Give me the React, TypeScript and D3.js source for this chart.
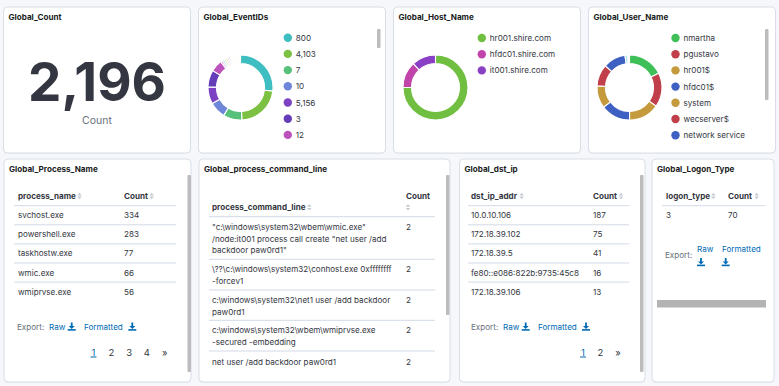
import React from "react";
import * as d3 from "d3";

// ---------- DATA ----------
const totalCount = 2196;

const eventIdLabels = ["800", "4,103", "7", "10", "5,156", "3", "12"];
const eventIdValues = [580, 488, 201, 177, 183, 183, 128];
// many small remaining event ids (tail of the donut)
const eventIdTailValues = [22, 20, 19, 18, 17, 16, 15, 14, 4, 4, 4, 4, 4, 4, 3, 3, 3, 3, 3, 3, 3, 3, 3, 3, 3, 3, 3, 3, 3, 3, 3, 3, 3, 3];
const eventIdColors = ["#3fbec1", "#7cc142", "#57c17b", "#6f87d8", "#7d42c4", "#663db8", "#bc52bc"];
const eventIdTailColors = ["#e59ad6", "#8fd3e8", "#b5dc88", "#f1c27d", "#a9a4ef", "#f09c9c", "#8fe0c0", "#e0d37a"];

const hostLabels = ["hr001.shire.com", "hfdc01.shire.com", "it001.shire.com"];
const hostValues = [1647, 287, 262];
const hostColors = ["#70bf41", "#c044aa", "#8a40c4"];

const userLabels = ["nmartha", "pgustavo", "hr001$", "hfdc01$", "system", "wecserver$", "network service"];
const userValues = [390, 372, 335, 323, 244, 238, 244];
const userTailValues = [30, 12, 7];
const userColors = ["#3fbf57", "#c03f4b", "#c49a3c", "#3e60c2", "#c49a3c", "#c03f4b", "#3e60c2"];
const userTailColors = ["#a8e4f0", "#d0eef8", "#e0e0f8"];

const processNames = ["svchost.exe", "powershell.exe", "taskhostw.exe", "wmic.exe", "wmiprvse.exe"];
const processCounts = [334, 283, 77, 66, 56];
const processPages = ["1", "2", "3", "4", "»"];

const commandLines = [
  ["\"c:\\windows\\system32\\wbem\\wmic.exe\"", "/node:it001 process call create \"net user /add", "backdoor paw0rd1\""],
  ["\\??\\c:\\windows\\system32\\conhost.exe 0xffffffff", "-forcev1"],
  ["c:\\windows\\system32\\net1 user /add backdoor", "paw0rd1"],
  ["c:\\windows\\system32\\wbem\\wmiprvse.exe", "-secured -embedding"],
  ["net user /add backdoor paw0rd1"],
];
const commandCounts = [2, 2, 2, 2, 2];

const dstIps = ["10.0.10.106", "172.18.39.102", "172.18.39.5", "fe80::e086:822b:9735:45c8", "172.18.39.106"];
const dstCounts = [187, 75, 41, 16, 13];
const dstPages = ["1", "2", "»"];

const logonTypes = ["3"];
const logonCounts = [70];

// ---------- STYLE ----------
const FONT = "Inter, 'Noto Sans', sans-serif";
const TEXT = "#343741";
const SUB = "#69707d";
const LINK = "#006bb4";
const LINE = "#d3dae6";
const SCROLL = "#bcbcbc";
const FS = 8.1;

const Panel = ({ x, y, w, h, title }: any) => (
  <g>
    <rect x={x} y={y + 1} width={w} height={h} rx={4} fill="#e4e8ef" opacity={0.6} />
    <rect x={x} y={y} width={w} height={h} rx={4} fill="#fff" stroke="#d9dee7" strokeWidth={1} />
    <text x={x + 5} y={y + 10} fontFamily={FONT} fontSize={8.1} fontWeight={700} fill="#1a1c21" dominantBaseline="central">
      {title}
    </text>
  </g>
);

const SortIcon = ({ x, y }: any) => (
  <g fill="#c5cad3">
    <path d={`M${x - 2.2},${y - 0.6} L${x + 2.2},${y - 0.6} L${x},${y - 3.2} Z`} />
    <path d={`M${x - 2.2},${y + 0.6} L${x + 2.2},${y + 0.6} L${x},${y + 3.2} Z`} />
  </g>
);

const DownloadIcon = ({ x, y }: any) => (
  <g fill={LINK}>
    <rect x={x - 0.9} y={y - 4} width={1.8} height={4} />
    <path d={`M${x - 3},${y - 0.5} L${x + 3},${y - 0.5} L${x},${y + 2.5} Z`} />
    <rect x={x - 4} y={y + 2.6} width={8} height={1.6} />
  </g>
);

const T = ({ x, y, children, size = FS, weight = 400, fill = TEXT, anchor = "start" }: any) => (
  <text x={x} y={y} fontFamily={FONT} fontSize={size} fontWeight={weight} fill={fill} textAnchor={anchor} dominantBaseline="central">
    {children}
  </text>
);

const Donut = ({ cx, cy, values, colors }: any) => {
  const pie = d3.pie<number>().sort(null).value((d) => d);
  const arc = d3.arc<d3.PieArcDatum<number>>().innerRadius(24).outerRadius(32.5);
  const arcs = pie(values);
  return (
    <g transform={`translate(${cx},${cy})`}>
      {arcs.map((a, i) => (
        <path key={i} d={arc(a) as string} fill={colors[i]} stroke="#fff" strokeWidth={1.1} />
      ))}
    </g>
  );
};

const Legend = ({ x, y0, labels, colors }: any) => {
  const step = 16.2;
  return (
    <g>
      {labels.map((l: string, i: number) => (
        <g key={i}>
          <circle cx={x} cy={y0 + i * step} r={4.2} fill={colors[i]} />
          <T x={x + 8} y={y0 + i * step} size={8.1}>{l}</T>
        </g>
      ))}
    </g>
  );
};

export default function App() {
  const evVals = [...eventIdValues, ...eventIdTailValues];
  const evCols = [...eventIdColors, ...eventIdTailValues.map((_, i) => eventIdTailColors[i % eventIdTailColors.length])];
  const usVals = [...userValues, ...userTailValues];
  const usCols = [...userColors, ...userTailColors];

  const rowY = (i: number) => 215 + i * 19.2;
  const rowLine = (i: number) => 205.7 + i * 19.1;

  const cmdRowStart = [226.7, 269.3, 300, 330, 361.7];
  const cmdLines = [216.7, 259.3, 290, 320.3, 351];

  return (
    <svg width={779} height={386} style={{ position: "absolute", left: 0, top: 0, background: "#f5f7fa" }}>
      <rect x={0} y={0} width={779} height={386} fill="#f5f7fa" />

      {/* Row 1 */}
      <Panel x={3.5} y={7} w={187} h={146} title="Global_Count" />
      <text x={97} y={101} fontFamily={FONT} fontSize={53} fontWeight={700} fill={TEXT} textAnchor="middle">
        {d3.format(",")(totalCount)}
      </text>
      <T x={97} y={120.5} size={10.5} fill={SUB} anchor="middle">Count</T>

      <Panel x={198.5} y={7} w={187} h={146} title="Global_EventIDs" />
      <Donut cx={240.5} cy={87.5} values={evVals} colors={evCols} />
      <Legend x={287.8} y0={37.7} labels={eventIdLabels} colors={eventIdColors} />
      <rect x={377} y={29} width={3.5} height={19} rx={1} fill={SCROLL} />

      <Panel x={393.5} y={7} w={187} h={146} title="Global_Host_Name" />
      <Donut cx={435.5} cy={87.5} values={hostValues} colors={hostColors} />
      <Legend x={481.8} y0={38} labels={hostLabels} colors={hostColors} />

      <Panel x={588.5} y={7} w={187} h={146} title="Global_User_Name" />
      <Donut cx={629.5} cy={87.5} values={usVals} colors={usCols} />
      <Legend x={675.5} y0={38} labels={userLabels} colors={userColors} />
      <rect x={765} y={29} width={3.5} height={71} rx={1} fill={SCROLL} />

      {/* Row 2: Global_Process_Name */}
      <Panel x={4} y={159} w={187} h={223} title="Global_Process_Name" />
      <T x={18} y={196} weight={700}>process_name</T>
      <SortIcon x={79.5} y={196} />
      <T x={124} y={196} weight={700}>Count</T>
      <SortIcon x={151.7} y={196} />
      {processNames.map((n, i) => (
        <g key={n}>
          <line x1={14} x2={176} y1={rowLine(i)} y2={rowLine(i)} stroke={LINE} />
          <T x={18} y={rowY(i)}>{n}</T>
          <T x={124} y={rowY(i)}>{processCounts[i]}</T>
        </g>
      ))}
      <T x={17} y={327} fill={SUB}>Export:</T>
      <T x={49} y={327} fill={LINK}>Raw</T>
      <DownloadIcon x={71.7} y={326.5} />
      <T x={84} y={327} fill={LINK}>Formatted</T>
      <DownloadIcon x={132.3} y={326.5} />
      {processPages.map((p, i) => (
        <T key={p} x={93.5 + i * 17.8} y={352} size={9.5} fill={i === 0 ? LINK : TEXT} anchor="middle">{p}</T>
      ))}
      <line x1={90.5} x2={96.5} y1={357} y2={357} stroke={LINK} strokeWidth={1} />
      <rect x={187.5} y={175} width={3.5} height={197} rx={1} fill={SCROLL} />

      {/* Global_process_command_line */}
      <Panel x={199} y={159} w={251} h={223} title="Global_process_command_line" />
      <T x={212} y={207.3} weight={700}>process_command_line</T>
      <SortIcon x={309.3} y={207.3} />
      <T x={406} y={196} weight={700}>Count</T>
      <SortIcon x={408} y={207.3} />
      {commandLines.map((lines, i) => (
        <g key={i}>
          <line x1={209} x2={435} y1={cmdLines[i]} y2={cmdLines[i]} stroke={LINE} />
          {lines.map((l, j) => (
            <T key={j} x={212} y={cmdRowStart[i] + j * 11.8}>{l}</T>
          ))}
          <T x={406} y={cmdRowStart[i]}>{commandCounts[i]}</T>
        </g>
      ))}
      <rect x={446} y={175} width={3.5} height={140} rx={1} fill={SCROLL} />

      {/* Global_dst_ip */}
      <Panel x={459.5} y={159} w={185.5} h={223} title="Global_dst_ip" />
      <T x={471} y={196} weight={700}>dst_ip_addr</T>
      <SortIcon x={521.7} y={196} />
      <T x={593} y={196} weight={700}>Count</T>
      <SortIcon x={621} y={196} />
      {dstIps.map((n, i) => (
        <g key={n}>
          <line x1={468} x2={629} y1={rowLine(i)} y2={rowLine(i)} stroke={LINE} />
          <T x={471} y={rowY(i)}>{n}</T>
          <T x={593} y={rowY(i)}>{dstCounts[i]}</T>
        </g>
      ))}
      <T x={471} y={327} fill={SUB}>Export:</T>
      <T x={503} y={327} fill={LINK}>Raw</T>
      <DownloadIcon x={525.7} y={326.5} />
      <T x={538} y={327} fill={LINK}>Formatted</T>
      <DownloadIcon x={586} y={326.5} />
      {dstPages.map((p, i) => (
        <T key={p} x={583 + i * 17.5} y={352} size={9.5} fill={i === 0 ? LINK : TEXT} anchor="middle">{p}</T>
      ))}
      <line x1={580} x2={586} y1={357} y2={357} stroke={LINK} strokeWidth={1} />
      <rect x={640} y={175} width={3.5} height={197} rx={1} fill={SCROLL} />

      {/* Global_Logon_Type */}
      <Panel x={652} y={159} w={122} h={223} title="Global_Logon_Type" />
      <T x={666} y={196} weight={700}>logon_type</T>
      <SortIcon x={713.3} y={196} />
      <T x={728} y={196} weight={700}>Count</T>
      <SortIcon x={756.7} y={196} />
      <line x1={662} x2={765} y1={205.7} y2={205.7} stroke={LINE} />
      {logonTypes.map((n, i) => (
        <g key={n}>
          <T x={666} y={rowY(i)}>{n}</T>
          <T x={728} y={rowY(i)}>{logonCounts[i]}</T>
        </g>
      ))}
      <T x={665} y={255} fill={SUB}>Export:</T>
      <T x={697} y={249} fill={LINK}>Raw</T>
      <DownloadIcon x={701} y={262} />
      <T x={722} y={249} fill={LINK}>Formatted</T>
      <DownloadIcon x={725.7} y={262} />
      <rect x={657} y={300} width={109} height={7.5} fill="#b3b3b3" />
    </svg>
  );
}
